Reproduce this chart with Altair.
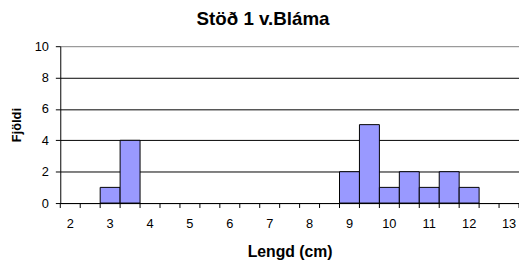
import altair as alt
import pandas as pd

categories = ["2", "2.5", "3", "3.5", "4", "4.5", "5", "5.5", "6", "6.5", "7", "7.5",
              "8", "8.5", "9", "9.5", "10", "10.5", "11", "11.5", "12", "12.5", "13"]
bar_lengths = ["3", "3.5", "9", "9.5", "10", "10.5", "11", "11.5", "12"]
bar_counts = [1, 4, 2, 5, 1, 2, 1, 2, 1]
y_ticks = [0, 2, 4, 6, 8, 10]

df = pd.DataFrame({"Lengd": bar_lengths, "Fjoldi": bar_counts})
cat_df = pd.DataFrame({"Lengd": categories})
last_df = pd.DataFrame({"Lengd": [categories[-1]]})

FONT = "Liberation Sans"
W, H = 465, 159

xscale = alt.Scale(domain=categories, paddingInner=0, paddingOuter=0)

bars = alt.Chart(df).mark_bar(
    color="#9999FF", stroke="black", strokeWidth=1
).encode(
    x=alt.X("Lengd:O", sort=categories, scale=xscale,
            axis=alt.Axis(title="Lengd (cm)", labelAngle=0, ticks=False,
                          labelExpr="indexof(datum.value, '.') >= 0 ? '' : datum.value",
                          grid=False, domainColor="black",
                          labelPadding=15, labelFont=FONT, labelFontSize=13,
                          labelColor="black", titleFont=FONT, titleFontSize=16,
                          titleFontWeight="bold", titleColor="black", titlePadding=13)),
    y=alt.Y("Fjoldi:Q", scale=alt.Scale(domain=[0, 10]),
            axis=alt.Axis(title="Fjöldi", values=y_ticks, grid=True,
                          gridColor=alt.ConditionalAxisColor(
                              condition={"test": "datum.value == 10", "value": "#808080"},
                              value="black"),
                          gridOpacity=1,
                          domainColor="black", tickColor="black",
                          tickSize=5, labelPadding=7, labelFont=FONT, labelFontSize=13,
                          labelColor="black", titleFont=FONT, titleFontSize=13,
                          titleFontWeight="bold", titleColor="black", titlePadding=11)),
)

ticks = alt.Chart(cat_df).mark_rule(color="black", strokeWidth=1).encode(
    x=alt.X("Lengd:O", sort=categories, scale=xscale, bandPosition=0),
    y=alt.value(H),
    y2=alt.value(H + 5),
)

last_tick = alt.Chart(last_df).mark_rule(color="black", strokeWidth=1).encode(
    x=alt.X("Lengd:O", sort=categories, scale=xscale, bandPosition=1),
    y=alt.value(H),
    y2=alt.value(H + 5),
)

chart = alt.layer(bars, ticks, last_tick).properties(
    width=W, height=H,
    autosize=alt.AutoSizeParams(type="none"),
    padding={"left": 53, "top": 37, "right": 0, "bottom": 57},
    title=alt.TitleParams("Stöð 1 v.Bláma", font=FONT, fontSize=19, fontWeight="bold",
                          color="black", anchor="middle", dx=-27, offset=12),
    background="white",
).configure_view(stroke=None)

chart.save("out.html", embed_options={"renderer": "svg", "actions": False})
